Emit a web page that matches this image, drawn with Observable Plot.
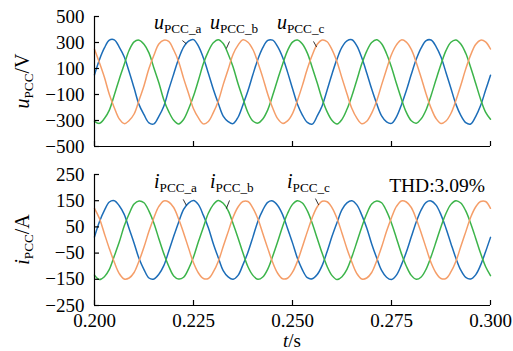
<!DOCTYPE html>
<html><head><meta charset="utf-8">
<script src="https://cdn.jsdelivr.net/npm/d3@7"></script>
<script src="https://cdn.jsdelivr.net/npm/@observablehq/plot@0.6"></script>
<style>
body{margin:0;background:#fff;}
#chart{position:relative;width:513px;height:351px;font-family:"Liberation Serif","Times New Roman",serif;}
#chart svg{position:absolute;left:0;overflow:visible;}
</style></head><body><div id="chart"></div>
<script>
// sample times (s)
const time = [0.2,0.20125,0.2025,0.20375,0.205,0.20625,0.2075,0.20875,0.21,0.21125,0.2125,0.21375,0.215,0.21625,0.2175,0.21875,
0.22,0.22125,0.2225,0.22375,0.225,0.22625,0.2275,0.22875,0.23,0.23125,0.2325,0.23375,0.235,0.23625,0.2375,0.23875,
0.24,0.24125,0.2425,0.24375,0.245,0.24625,0.2475,0.24875,0.25,0.25125,0.2525,0.25375,0.255,0.25625,0.2575,0.25875,
0.26,0.26125,0.2625,0.26375,0.265,0.26625,0.2675,0.26875,0.27,0.27125,0.2725,0.27375,0.275,0.27625,0.2775,0.27875,
0.28,0.28125,0.2825,0.28375,0.285,0.28625,0.2875,0.28875,0.29,0.29125,0.2925,0.29375,0.295,0.29625,0.2975,0.29875,0.3];

// voltage (V)
const uA = [52,168,258,318,320,265,190,75,-50,-178,-255,-318,-326,-268,-190,-62,
58,175,265,310,322,272,180,64,-60,-168,-266,-308,-324,-275,-178,-72,
54,170,260,316,318,268,186,72,-54,-175,-258,-315,-328,-265,-186,-66,
60,174,264,312,321,274,182,66,-58,-170,-264,-310,-322,-272,-180,-70,
55,171,259,315,319,269,188,70,-52,-174,-260,-316,-327,-270,-185,-68,48];
const uB = [-306,-322,-285,-220,-104,18,130,240,305,318,286,220,104,-10,-140,-232,
-298,-326,-292,-212,-112,10,138,232,298,322,292,212,112,-18,-132,-240,
-304,-320,-288,-218,-106,16,133,238,303,319,288,218,106,-12,-137,-234,
-300,-327,-291,-214,-110,12,136,234,300,321,291,214,110,-16,-134,-238,
-302,-321,-287,-217,-107,15,132,237,302,320,289,217,107,-13,-136,-235,-290];
const uC = [248,144,32,-100,-202,-288,-324,-300,-250,-144,-32,100,202,288,318,308,
242,152,24,-92,-210,-280,-326,-308,-240,-152,-24,92,210,280,321,302,
246,146,30,-98,-204,-286,-322,-303,-247,-146,-30,98,204,286,319,306,
243,150,26,-94,-208,-282,-325,-306,-243,-150,-26,94,208,282,320,303,
247,147,29,-97,-205,-285,-323,-304,-246,-147,-29,97,205,285,318,305,250];

// current (A)
const iA = [12,70,113,145,150,131,98,43,-12,-71,-113,-145,-149,-131,-98,-43,
14,68,117,141,151,135,94,47,-14,-67,-117,-141,-150,-135,-94,-47,
11,71,114,144,149,132,97,44,-11,-70,-114,-144,-148,-132,-97,-44,
15,67,116,142,150,134,95,46,-15,-68,-116,-142,-151,-134,-95,-46,
12,69,115,144,149,133,96,45,-13,-69,-115,-143,-149,-133,-96,-45,10];
const iB = [-134,-151,-140,-112,-61,-8,53,100,137,149,142,110,64,5,-52,-100,
-137,-149,-142,-110,-65,-6,49,102,135,151,140,112,62,8,-50,-102,
-135,-150,-141,-111,-62,-7,52,101,136,150,141,111,63,6,-51,-101,
-136,-151,-140,-112,-64,-8,50,100,137,149,142,110,64,7,-52,-100,
-135,-150,-141,-111,-63,-7,51,101,136,150,141,111,63,7,-51,-101,-136];
const iC = [121,82,24,-33,-85,-128,-149,-145,-124,-80,-27,33,85,128,149,145,
124,80,27,-31,-87,-126,-147,-147,-122,-82,-25,31,87,126,147,147,
122,81,25,-32,-86,-127,-148,-146,-123,-81,-26,32,86,127,148,146,
123,82,26,-33,-85,-128,-149,-145,-124,-80,-27,33,85,128,149,145,
124,80,27,-31,-87,-126,-147,-147,-122,-82,-25,31,87,126,147,147,121];

const uTicks = [500,300,100,-100,-300,-500];
const iTicks = [250,150,50,-50,-150,-250];
const tTicks = [0.2,0.225,0.25,0.275,0.3];
const phases = ["a","b","c"];
const phaseColors = ["#1c6db8","#3cb44a","#f59e69"];

// annotations (data coordinates)
const uLabelT = [0.21515,0.22929,0.24621];
const uLabelV = [400,400,400];
const uLeadT1 = [0.2222,0.2341,0.2553], uLeadV1 = [315,308,308];
const uLeadT2 = [0.2232,0.2333,0.2561], uLeadV2 = [290,254,265];
const iLabelT = [0.21515,0.22929,0.24874];
const iLabelV = [197,197,197];
const iLeadT1 = [0.2224,0.2341,0.2558], iLeadV1 = [155,151,158];
const iLeadT2 = [0.2232,0.2333,0.2566], iLeadV2 = [132,120,134];
const thdText = "THD:3.09%";
const thdT = 0.29874, thdV = 181;

const uSeries = [uA,uB,uC], iSeries = [iA,iB,iC];
const rowsU = phases.flatMap((p,j)=>time.map((t,k)=>({t, v:uSeries[j][k], phase:p})));
const rowsI = phases.flatMap((p,j)=>time.map((t,k)=>({t, v:iSeries[j][k], phase:p})));
const leadsU = phases.map((p,j)=>({x1:uLeadT1[j],y1:uLeadV1[j],x2:uLeadT2[j],y2:uLeadV2[j]}));
const leadsI = phases.map((p,j)=>({x1:iLeadT1[j],y1:iLeadV1[j],x2:iLeadT2[j],y2:iLeadV2[j]}));

const FONT = '"Liberation Serif","Times New Roman",serif';
const common = {
  width: 513, marginLeft: 94, marginRight: 23,
  style: {fontFamily: FONT, fontSize: "19px", color: "black", background: "transparent", overflow: "visible"},
  color: {domain: phases, range: phaseColors}
};

function panel(rows, leads, yDomain, yTicks, height, mt, mb, showX) {
  return Plot.plot({
    ...common, height, marginTop: mt, marginBottom: mb,
    x: {domain: [0.2, 0.3], axis: null},
    y: {domain: yDomain, axis: null},
    marks: [
      Plot.line(rows, {x: "t", y: "v", stroke: "phase", strokeWidth: 1.5, curve: "catmull-rom"}),
      Plot.link(leads, {x1: "x1", y1: "y1", x2: "x2", y2: "y2", stroke: "black", strokeWidth: 0.8}),
      Plot.ruleX([0.2], {stroke: "black", strokeWidth: 1.2}),
      Plot.ruleY([yDomain[0]], {stroke: "black", strokeWidth: 1.2}),
      Plot.axisY(yTicks, {anchor: "left", tickSize: -5, tickPadding: 15, label: null, strokeWidth: 1.2}),
      Plot.axisX(tTicks, {anchor: "bottom", tickSize: -5, tickPadding: 12.5, label: null, strokeWidth: 1.2,
        tickFormat: showX ? d3.format(".3f") : () => ""})
    ]
  });
}

const topPlot = panel(rowsU, leadsU, [-500, 500], uTicks, 160, 16, 14, false);
const botPlot = panel(rowsI, leadsI, [-250, 250], iTicks, 191, 14, 46, true);
topPlot.style.top = "0px";
botPlot.style.top = "160px";
const chart = document.getElementById("chart");
chart.appendChild(topPlot);
chart.appendChild(botPlot);

function rich(svg, x, y, main, sub, tail, size, transform) {
  const t = d3.select(svg).append("text")
    .attr("font-family", FONT).attr("font-size", size).attr("fill", "black");
  if (transform) t.attr("transform", transform).attr("text-anchor", "middle");
  else t.attr("x", x).attr("y", y).attr("text-anchor", "start");
  t.append("tspan").attr("font-style", "italic").text(main);
  t.append("tspan").attr("font-size", size * 0.66).attr("dy", 4).text(sub);
  if (tail) t.append("tspan").attr("dy", -4).text(tail);
  return t;
}

// curve labels
const xt = topPlot.scale("x"), yt = topPlot.scale("y"), xb = botPlot.scale("x"), yb = botPlot.scale("y");
phases.forEach((p, j) => {
  rich(topPlot, xt.apply(uLabelT[j]), yt.apply(uLabelV[j]), "u", "PCC_" + p, null, 20);
  rich(botPlot, xb.apply(iLabelT[j]), yb.apply(iLabelV[j]), "i", "PCC_" + p, null, 20);
});
d3.select(botPlot).append("text").attr("x", xb.apply(thdT)).attr("y", yb.apply(thdV))
  .attr("text-anchor", "end").attr("font-family", FONT).attr("font-size", 19.5).text(thdText);

// axis titles
rich(topPlot, 0, 0, "u", "PCC", "/V", 20, `translate(29,${yt.apply(0)}) rotate(-90)`);
rich(botPlot, 0, 0, "i", "PCC", "/A", 20, `translate(29,${yb.apply(0)}) rotate(-90)`);
const xl = d3.select(botPlot).append("text").attr("x", xb.apply(0.25)).attr("y", 187)
  .attr("text-anchor", "middle").attr("font-family", FONT).attr("font-size", 19);
xl.append("tspan").attr("font-style", "italic").text("t");
xl.append("tspan").text("/s");
</script></body></html>
